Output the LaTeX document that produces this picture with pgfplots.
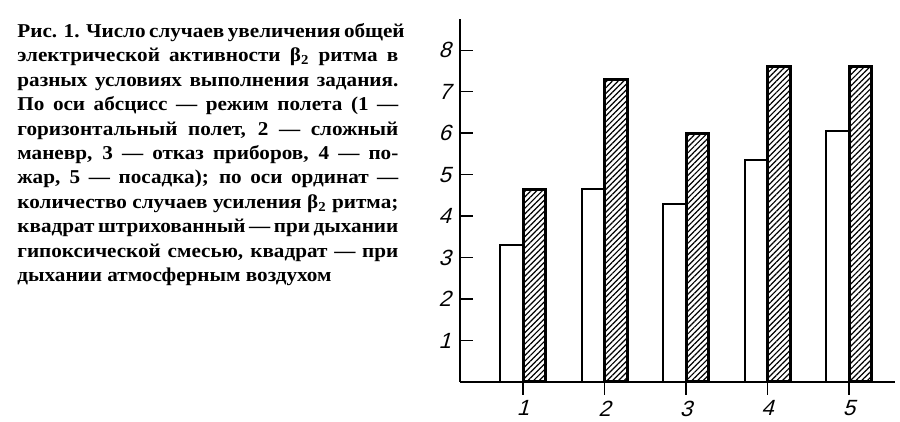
\documentclass[border=0pt]{standalone}
\usepackage{fontspec}
\setmainfont{Liberation Serif}[FakeStretch=1.08]
\newfontfamily\tickfont{Liberation Sans}[FakeSlant=0.28]
\usepackage{pgfplots}
\pgfplotsset{compat=1.18}
\usetikzlibrary{patterns.meta}

\newcommand{\jl}[1]{\makebox[\linewidth][s]{#1}\\}

\begin{document}
\begin{tikzpicture}
\useasboundingbox (0pt,0pt) rectangle (450pt,211pt);

% caption at the left
\node[anchor=base west, inner sep=0pt] at (8.5pt,192.2pt) {%
  \parbox[t]{190.5pt}{\bfseries\fontsize{9.8}{12.2}\selectfont
  \jl{Рис. 1. Число случаев увеличения общей}
  \jl{электрической активности β\textsubscript{2} ритма в}
  \jl{разных условиях выполнения задания.}
  \jl{По оси абсцисс — режим полета (1 —}
  \jl{горизонтальный полет, 2 — сложный}
  \jl{маневр, 3 — отказ приборов, 4 — по-}
  \jl{жар, 5 — посадка); по оси ординат —}
  \jl{количество случаев усиления β\textsubscript{2} ритма;}
  \jl{квадрат штрихованный — при дыхании}
  \jl{гипоксической смесью, квадрат — при}
  дыхании атмосферным воздухом}};

\begin{axis}[
    at={(230pt,20pt)}, anchor=south west,
    scale only axis, width=217.5pt, height=181.5pt,
    xmin=0.227, xmax=5.564, ymin=0, ymax=8.75,
    axis lines*=left,
    axis line style={line width=1pt},
    xtick={1,2,3,4,5}, xticklabels={1,2,3,4,5},
    ytick={1,2,3,4,5,6,7,8}, yticklabels={1,2,3,4,5,6,7,8},
    xtick align=outside, ytick align=inside,
    major tick length=6.3pt,
    tick style={black, line width=0.6pt},
    tick label style={font=\tickfont\fontsize{11}{12}\selectfont},
    yticklabel style={xshift=-1pt},
    xticklabel style={yshift=0.5pt},
    clip=false,
]
% atmospheric air
\addplot[ybar, bar width=0.28, bar shift=-0.14, fill=white, draw=black, line width=1pt]
coordinates {(1,3.3) (2,4.65) (3,4.3) (4,5.35) (5,6.05)};
% hypoxic mixture
\addplot[ybar, bar width=0.28, bar shift=0.14, draw=black, line width=1.5pt,
    pattern={Lines[angle=45, distance=2pt, line width=0.6pt]}]
coordinates {(1,4.65) (2,7.3) (3,6.0) (4,7.6) (5,7.6)};
\end{axis}
\end{tikzpicture}
\end{document}
